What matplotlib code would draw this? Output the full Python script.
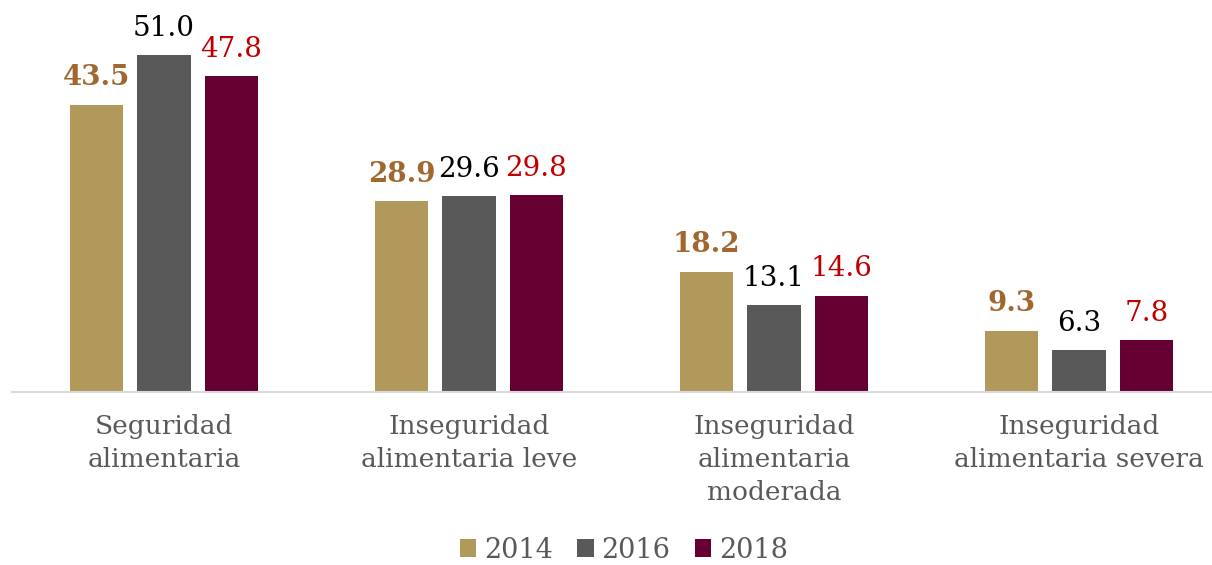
import matplotlib
matplotlib.use("Agg")
from matplotlib import pyplot as plt
import numpy as np

categories = [
    "Seguridad\nalimentaria",
    "Inseguridad\nalimentaria leve",
    "Inseguridad\nalimentaria\nmoderada",
    "Inseguridad\nalimentaria severa",
]
years = ["2014", "2016", "2018"]
values_2014 = [43.5, 28.9, 18.2, 9.3]
values_2016 = [51.0, 29.6, 13.1, 6.3]
values_2018 = [47.8, 29.8, 14.6, 7.8]

bar_colors = ["#B0995A", "#595959", "#660033"]
label_colors = ["#A0682F", "#000000", "#C00000"]
label_weights = ["bold", "normal", "normal"]

plt.rcParams["font.family"] = ["DejaVu Serif"]

fig = plt.figure(figsize=(12.12, 5.65), dpi=100)
ax = fig.add_axes([11.5 / 1212, 1 - 392 / 565, 1200.5 / 1212, 382 / 565])

x = np.arange(len(categories))
width = 0.174
step = 0.221
series = [values_2014, values_2016, values_2018]
for i, (vals, year) in enumerate(zip(series, years)):
    pos = x + (i - 1) * step
    bars = ax.bar(pos, vals, width, color=bar_colors[i], label=year)
    for b, v in zip(bars, vals):
        ax.text(b.get_x() + b.get_width() / 2, v + 2.0, f"{v:.1f}",
                ha="center", va="bottom", fontsize=20,
                color=label_colors[i], fontweight=label_weights[i])

ax.set_xlim(-0.5, 3.436)
ax.set_ylim(0, 57.8)
ax.set_yticks([])
ax.set_xticks(x)
ax.set_xticklabels(categories, fontsize=19, color="#595959", linespacing=1.4)
ax.tick_params(axis="x", length=0, pad=16)
for side in ["top", "right", "left"]:
    ax.spines[side].set_visible(False)
ax.spines["bottom"].set_color("#D9D9D9")
ax.spines["bottom"].set_linewidth(1.5)

leg = fig.legend(loc="center", bbox_to_anchor=(624 / 1212, 1 - 550 / 565), ncol=3,
                 frameon=False, fontsize=19.5, handlelength=0.6,
                 handleheight=0.6, handletextpad=0.3, columnspacing=0.9)
for t in leg.get_texts():
    t.set_color("#595959")

fig.savefig("out.png", dpi=100)
